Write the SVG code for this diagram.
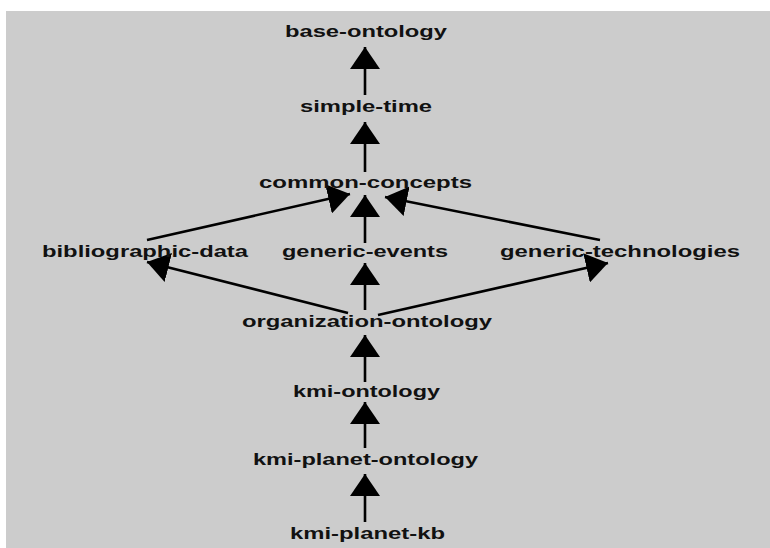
<svg xmlns="http://www.w3.org/2000/svg" width="770" height="548" viewBox="0 0 770 548">
<style>
.lbl{font-family:"Liberation Sans",Arial,Helvetica,sans-serif;font-size:16px;font-weight:bold;fill:#111;text-anchor:start}
.edge{stroke:#000;stroke-width:2.6;fill:none;marker-end:url(#ah)}
</style>
<defs>
<marker id="ah" viewBox="0 0 22 30" refX="22" refY="15" markerWidth="22" markerHeight="30" markerUnits="userSpaceOnUse" orient="auto">
<path d="M0,0 L22,15 L0,30 z" fill="#000"/>
</marker>
</defs>
<rect x="0" y="0" width="770" height="548" fill="#ffffff"/>
<rect x="6" y="11" width="764" height="537" fill="#cccccc"/>
<g id="connectors">
<line class="edge" x1="365" y1="95" x2="365" y2="47"/>
<line class="edge" x1="365" y1="172" x2="365" y2="122"/>
<line class="edge" x1="365" y1="243" x2="365" y2="195"/>
<line class="edge" x1="147" y1="240" x2="350" y2="194"/>
<line class="edge" x1="600" y1="240" x2="385" y2="197"/>
<line class="edge" x1="365" y1="310" x2="365" y2="263"/>
<line class="edge" x1="348" y1="313" x2="147" y2="262"/>
<line class="edge" x1="378" y1="315" x2="608" y2="263"/>
<line class="edge" x1="365" y1="382" x2="365" y2="335"/>
<line class="edge" x1="365" y1="448" x2="365" y2="402"/>
<line class="edge" x1="365" y1="522" x2="365" y2="474"/>
</g>
<g id="base-ontology"><text class="lbl" x="285" y="37" textLength="162" lengthAdjust="spacingAndGlyphs">base-ontology</text></g>
<g id="simple-time"><text class="lbl" x="300" y="112" textLength="132" lengthAdjust="spacingAndGlyphs">simple-time</text></g>
<g id="common-concepts"><text class="lbl" x="259" y="188" textLength="213" lengthAdjust="spacingAndGlyphs">common-concepts</text></g>
<g id="bibliographic-data"><text class="lbl" x="42" y="257" textLength="206" lengthAdjust="spacingAndGlyphs">bibliographic-data</text></g>
<g id="generic-events"><text class="lbl" x="282" y="257" textLength="166" lengthAdjust="spacingAndGlyphs">generic-events</text></g>
<g id="generic-technologies"><text class="lbl" x="500" y="257" textLength="240" lengthAdjust="spacingAndGlyphs">generic-technologies</text></g>
<g id="organization-ontology"><text class="lbl" x="242" y="327" textLength="250" lengthAdjust="spacingAndGlyphs">organization-ontology</text></g>
<g id="kmi-ontology"><text class="lbl" x="293" y="397" textLength="147" lengthAdjust="spacingAndGlyphs">kmi-ontology</text></g>
<g id="kmi-planet-ontology"><text class="lbl" x="253" y="465" textLength="225" lengthAdjust="spacingAndGlyphs">kmi-planet-ontology</text></g>
<g id="kmi-planet-kb"><text class="lbl" x="290" y="539" textLength="155" lengthAdjust="spacingAndGlyphs">kmi-planet-kb</text></g>
</svg>
